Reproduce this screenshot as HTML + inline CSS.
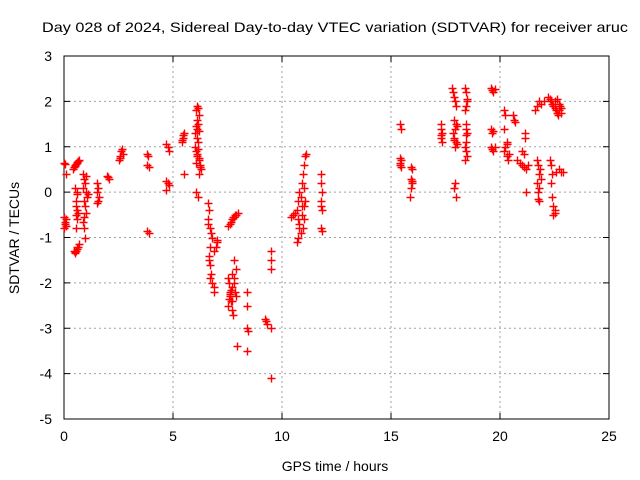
<!DOCTYPE html>
<html><head><meta charset="utf-8"><style>
body{margin:0;background:#fff;}
svg{display:block;font-family:"Liberation Sans",sans-serif;}
</style></head><body>
<svg id="chart" width="640" height="480">
<rect width="640" height="480" fill="#fff"/>
<text x="42" y="32" font-size="14" textLength="586" lengthAdjust="spacingAndGlyphs">Day 028 of 2024, Sidereal Day-to-day VTEC variation (SDTVAR) for receiver aruc</text>
<g id="grid"></g>
<g id="axes"></g>
<g id="points"></g>
<text x="335" y="471" font-size="14" text-anchor="middle">GPS time / hours</text>
<text transform="translate(19,238) rotate(-90)" font-size="14" text-anchor="middle">SDTVAR / TECUs</text>
</svg>
<script>
const xTicks=[0,5,10,15,20,25];
const yTicks=[3,2,1,0,-1,-2,-3,-4,-5];
const hours=[
0,0.05,0.1,0,0.05,0.1,0,0.05,0.1,
0.4,0.45,0.5,0.55,0.6,0.65,0.7,0.5,0.6,
0.45,0.5,0.55,0.6,0.65,0.7,0.5,0.6,
0.55,0.55,0.6,0.55,0.6,0.55,0.6,0.5,0.6,0.65,
0.85,0.9,0.95,0.85,1.0,1.05,0.9,0.95,1.0,0.9,0.85,0.9,0.95,1.1,1.0,
1.5,1.55,1.5,1.6,1.55,1.5,
1.95,2.05,2.0,
2.5,2.55,2.6,2.65,2.7,2.55,2.6,
3.8,3.85,3.8,3.9,3.8,3.9,
4.7,4.75,4.8,4.7,4.75,4.8,4.7,
5.4,5.45,5.5,5.45,5.4,5.5,5.5,
6.1,6.15,6.05,6.2,6.1,6.15,6.05,6.1,6.2,6.0,6.1,6.15,6.0,6.05,6.1,6.2,6.25,6.3,6.2,6.05,6.1,6.15,6.2,6.25,6.05,6.15,
6.6,6.65,6.6,6.7,6.75,6.8,6.7,6.65,6.7,6.75,6.8,6.9,7.0,6.95,6.9,6.6,6.65,6.7,6.9,7.0,
7.5,7.6,7.7,7.8,7.9,8.0,7.65,7.75,7.85,
7.5,7.55,7.6,7.65,7.7,7.75,7.6,7.7,7.8,7.9,7.8,7.9,7.5,7.6,7.7,7.8,7.55,7.65,7.7,7.85,
7.95,8.4,8.4,8.4,8.4,8.45,
9.2,9.25,9.3,9.5,9.5,9.5,9.5,9.5,
10.4,10.5,10.6,10.7,10.75,10.8,10.85,10.9,10.75,10.8,10.7,10.75,10.8,10.85,10.9,11.0,10.9,10.95,11.0,11.05,11.1,11.0,11.05,11.0,10.95,
11.8,11.8,11.85,11.8,11.85,11.8,11.85,11.8,
15.4,15.45,15.4,15.45,15.4,15.45,15.4,
15.9,15.95,15.9,15.95,15.9,15.85,15.95,
17.3,17.3,17.35,17.3,17.35,17.3,
17.8,17.85,17.9,17.95,18.0,17.9,18.0,17.95,17.85,17.9,18.0,17.95,18.05,17.9,18.0,17.95,17.9,18.05,
18.4,18.45,18.5,18.45,18.4,18.45,18.5,18.45,18.4,18.45,18.5,18.4,18.45,18.5,18.45,
19.6,19.65,19.7,19.75,19.6,19.65,19.7,19.6,19.65,19.7,19.75,
20.2,20.25,20.2,20.3,20.25,20.2,20.3,20.35,20.4,20.3,
20.6,20.65,20.7,
20.8,20.9,21.0,21.1,21.2,21.3,21.0,21.1,21.15,21.15,21.2,
21.6,21.7,21.8,21.9,22.0,21.7,21.75,21.8,21.7,21.75,21.8,21.85,21.9,21.8,21.75,
22.2,22.3,22.35,22.4,22.45,22.5,22.55,22.6,22.65,22.7,22.75,22.8,22.5,22.6,22.7,22.8,
22.3,22.35,22.4,22.35,22.4,22.45,22.5,22.45,22.5,22.55,22.7,22.8,22.9
];
const sdtvar=[
0.65,0.62,0.4,-0.55,-0.65,-0.75,-0.8,-0.7,-0.6,
0.5,0.55,0.6,0.62,0.65,0.68,0.7,0.58,0.66,
-1.3,-1.35,-1.3,-1.25,-1.2,-1.15,-1.32,-1.22,
-0.2,-0.3,-0.4,-0.5,-0.6,-0.8,0,0.1,-0.05,-0.45,
0.4,0.3,0.2,0.1,0,-0.1,-0.2,-0.3,-0.45,-0.55,-0.65,-0.8,-1.0,-0.05,0.35,
0.2,0.1,0.0,-0.1,-0.2,-0.25,
0.35,0.3,0.33,
0.7,0.8,0.9,0.95,0.85,0.75,0.9,
0.85,0.8,0.6,0.55,-0.85,-0.9,
1.05,1.0,0.9,0.25,0.2,0.15,0.05,
1.1,1.2,1.3,1.25,1.15,1.3,0.4,
1.9,1.85,1.8,1.7,1.6,1.5,1.45,1.4,1.35,1.3,1.2,1.1,1.0,0.9,0.8,0.7,0.6,0.5,0.4,0.65,0.85,0.95,0.75,0.55,0.0,-0.1,
-0.25,-0.4,-0.6,-0.8,-0.9,-1.0,-1.2,-1.4,-1.6,-1.8,-2.0,-2.2,-1.1,-1.2,-1.3,-0.7,-1.5,-1.9,-2.1,-1.05,
-0.75,-0.7,-0.6,-0.55,-0.5,-0.45,-0.65,-0.55,-0.5,
-1.9,-2.0,-2.2,-2.4,-2.6,-2.7,-2.25,-2.1,-1.5,-1.7,-1.9,-2.3,-2.5,-2.3,-2.4,-2.0,-2.35,-2.15,-1.8,-2.2,
-3.4,-2.2,-2.5,-3.0,-3.5,-3.05,
-2.8,-2.85,-2.9,-3.0,-1.3,-1.5,-1.7,-4.1,
-0.55,-0.5,-0.45,-0.4,-0.2,0,-0.1,-0.3,-0.6,-0.8,-1.1,-1.0,-0.7,-0.9,-0.5,-0.3,0.2,0.4,0.6,0.8,0.85,0.1,-0.2,-0.6,-0.8,
0.4,0.2,0,-0.2,-0.4,-0.8,-0.85,-0.3,
1.5,1.4,0.75,0.7,0.6,0.55,0.65,
0.55,0.5,0.3,0.2,0.1,-0.1,0.25,
1.5,1.4,1.3,1.2,1.1,1.25,
2.3,2.2,2.1,2.0,1.9,1.6,1.5,1.4,1.3,1.2,1.1,1.0,1.05,0.1,-0.1,0.2,1.15,1.45,
2.3,2.2,2.0,1.9,1.8,1.5,1.3,1.1,1.0,0.9,0.8,0.7,1.25,2.05,1.4,
2.3,2.25,2.2,2.28,1.4,1.3,1.35,1.0,0.95,0.9,1.0,
1.8,1.7,1.4,1.1,1.0,0.9,0.8,0.7,0.85,1.05,
1.7,1.6,1.55,
0.7,0.65,0.6,0.55,0.5,0.6,0.9,0.85,1.3,1.2,0,
1.8,1.9,2.0,1.95,2.0,0.7,0.6,0.4,0.2,0,-0.2,0.5,0.3,0.1,-0.15,
2.1,2.05,2.0,1.95,1.9,1.85,1.8,1.75,1.7,1.8,1.9,1.75,2.0,2.05,1.95,1.85,
0.7,0.6,0.4,0.2,-0.1,-0.3,-0.45,-0.5,-0.4,0.45,0.5,0.45,0.45
];
const X0=64,X1=609,Y0=56,Y1=419;
const xScale=v=>X0+(v-0)/25*(X1-X0);
const yScale=v=>Y0+(3-v)/8*(Y1-Y0);
const NS="http://www.w3.org/2000/svg";
const grid=document.getElementById('grid'),axes=document.getElementById('axes'),pts=document.getElementById('points');
function mk(tag,attrs,parent){const e=document.createElementNS(NS,tag);for(const k in attrs)e.setAttribute(k,attrs[k]);parent.appendChild(e);return e;}
xTicks.forEach(t=>{
  const x=xScale(t);
  if(t>0&&t<25){const g=mk('line',{x1:x,x2:x,y1:Y0,y2:Y1,stroke:'#a0a0a0','stroke-dasharray':'2,3'},grid);
  
  }
  mk('line',{x1:x,x2:x,y1:Y1,y2:Y1-6,stroke:'#000'},axes);
  mk('line',{x1:x,x2:x,y1:Y0,y2:Y0+6,stroke:'#000'},axes);
  const l=mk('text',{x:x,y:Y1+22,'font-size':14,'text-anchor':'middle'},axes);l.textContent=t;
  
  
});
yTicks.forEach(t=>{
  const y=yScale(t);
  if(t<3&&t>-5){const g=mk('line',{x1:X0,x2:X1,y1:y,y2:y,stroke:'#a0a0a0','stroke-dasharray':'2,3'},grid);
  
  }
  mk('line',{x1:X0,x2:X0+6,y1:y,y2:y,stroke:'#000'},axes);
  mk('line',{x1:X1,x2:X1-6,y1:y,y2:y,stroke:'#000'},axes);
  const l=mk('text',{x:X0-12,y:y+5,'font-size':14,'text-anchor':'end'},axes);l.textContent=t;
  
  
});
mk('rect',{x:X0,y:Y0,width:X1-X0,height:Y1-Y0,fill:'none',stroke:'#000'},axes);
let d='';
hours.forEach((h,i)=>{
  const x=Math.round(xScale(h))+0.5,y=Math.round(yScale(sdtvar[i]))+0.5;
  d+=`M${x-4},${y}h8M${x},${y-4}v8`;
});
const p=mk('path',{d:d,stroke:'#ff0000','stroke-width':1.4,fill:'none'},pts);


</script>
</body></html>
